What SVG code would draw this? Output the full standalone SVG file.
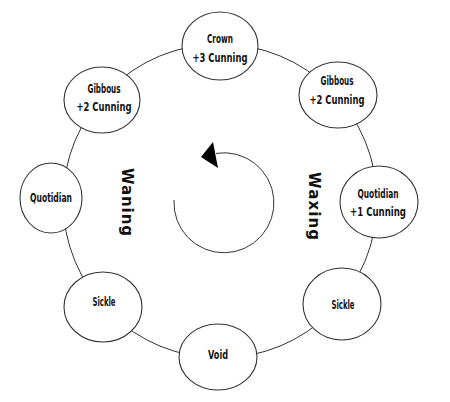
<svg xmlns="http://www.w3.org/2000/svg" width="450" height="402" viewBox="0 0 450 402">
<style>
.n ellipse{fill:#fff;stroke:#333;stroke-width:1.1}
.n text{font-family:"DejaVu Sans Condensed","DejaVu Sans",sans-serif;font-stretch:condensed;font-weight:bold;font-size:12.5px;fill:#111;text-anchor:middle}
.c{fill:none;stroke:#333;stroke-width:1}
.side{font-family:"DejaVu Sans","Liberation Sans",sans-serif;font-weight:bold;font-size:15px;fill:#111;text-anchor:middle}
</style>
<rect width="450" height="402" fill="#fff"/>
<g id="connectors">
<circle class="c" cx="220" cy="201" r="157"/>
</g>
<g id="cycle-arrow">
<path class="c" d="M174 200 A50 50 0 1 0 216 153.4" stroke-width="1.1"/>
<polygon points="201,157 213,142 218,168" fill="#000"/>
</g>
<g id="crown" class="n"><ellipse cx="220" cy="46" rx="38" ry="34"/><text x="220" y="43" textLength="26" lengthAdjust="spacingAndGlyphs">Crown</text><text x="220" y="62" textLength="55" lengthAdjust="spacingAndGlyphs">+3 Cunning</text></g>
<g id="gibbous-right" class="n"><ellipse cx="338" cy="95" rx="39" ry="33"/><text x="337" y="85" textLength="33" lengthAdjust="spacingAndGlyphs">Gibbous</text><text x="337" y="104" textLength="55" lengthAdjust="spacingAndGlyphs">+2 Cunning</text></g>
<g id="quotidian-right" class="n"><ellipse cx="379" cy="202" rx="39" ry="36"/><text x="378" y="198" textLength="41" lengthAdjust="spacingAndGlyphs">Quotidian</text><text x="378" y="216" textLength="56" lengthAdjust="spacingAndGlyphs">+1 Cunning</text></g>
<g id="sickle-right" class="n"><ellipse cx="342" cy="304" rx="39" ry="36"/><text x="343" y="309" textLength="23" lengthAdjust="spacingAndGlyphs">Sickle</text></g>
<g id="void" class="n"><ellipse cx="218" cy="357" rx="39" ry="33"/><text x="218" y="359" textLength="20" lengthAdjust="spacingAndGlyphs">Void</text></g>
<g id="sickle-left" class="n"><ellipse cx="103" cy="307" rx="39" ry="35"/><text x="104" y="306" textLength="23" lengthAdjust="spacingAndGlyphs">Sickle</text></g>
<g id="quotidian-left" class="n"><ellipse cx="51" cy="198" rx="31" ry="35"/><text x="51" y="202" textLength="42" lengthAdjust="spacingAndGlyphs">Quotidian</text></g>
<g id="gibbous-left" class="n"><ellipse cx="102" cy="100" rx="38" ry="33"/><text x="104" y="93" textLength="33" lengthAdjust="spacingAndGlyphs">Gibbous</text><text x="104" y="111" textLength="55" lengthAdjust="spacingAndGlyphs">+2 Cunning</text></g>
<text class="side" transform="translate(122 202) rotate(90)" textLength="68" lengthAdjust="spacing">Waning</text>
<text class="side" transform="translate(309 206) rotate(90)" textLength="68" lengthAdjust="spacing">Waxing</text>
</svg>
